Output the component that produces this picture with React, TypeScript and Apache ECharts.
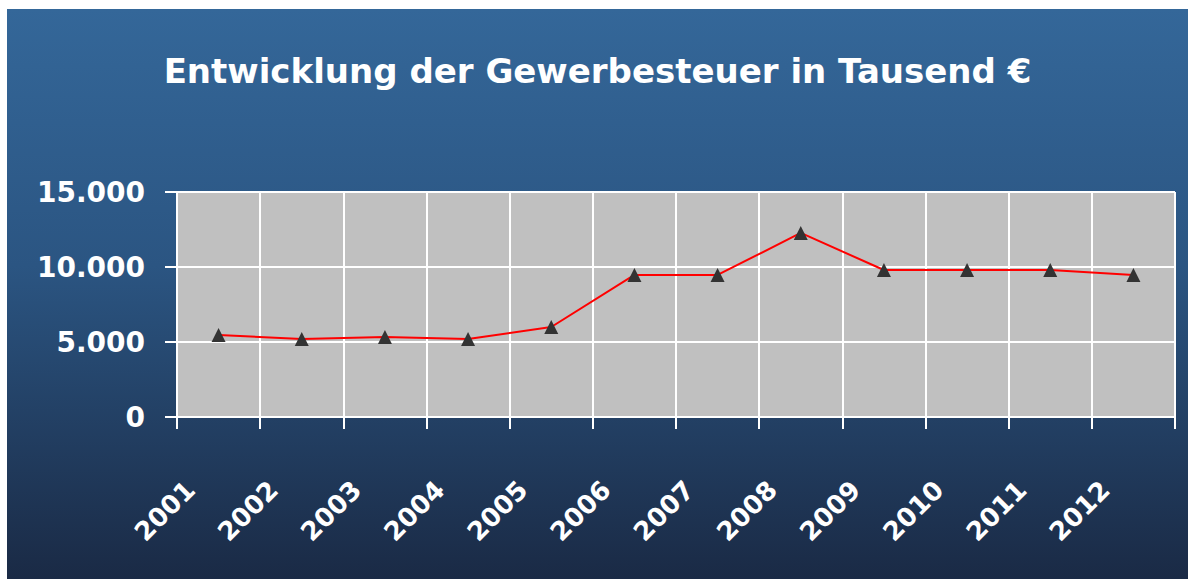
import React, { useEffect, useRef } from "react";
import * as echarts from "echarts";

const years = ["2001", "2002", "2003", "2004", "2005", "2006", "2007", "2008", "2009", "2010", "2011", "2012"];
const gewerbesteuer = [5470, 5200, 5330, 5200, 6000, 9470, 9470, 12270, 9800, 9800, 9800, 9470];
const titleText = "Entwicklung der Gewerbesteuer in Tausend €";

export default function App() {
  const ref = useRef<HTMLDivElement>(null);
  useEffect(() => {
    if (!ref.current) return;
    const chart = echarts.init(ref.current, null, { renderer: "svg" });
    const font = "'DejaVu Sans', sans-serif";
    chart.setOption({
      animation: false,
      backgroundColor: "transparent",
      graphic: [
        {
          type: "rect",
          z: -10,
          silent: true,
          shape: { x: 0, y: 0, width: 1181, height: 570 },
          style: {
            fill: new echarts.graphic.LinearGradient(0, 0, 0, 1, [
              { offset: 0, color: "#346799" },
              { offset: 0.45, color: "#2b5582" },
              { offset: 1, color: "#1a2a45" },
            ]),
          },
        },
      ],
      title: {
        text: titleText,
        left: "center",
        top: 40,
        textStyle: { color: "#ffffff", fontFamily: font, fontWeight: "bold", fontSize: 34 },
      },
      grid: {
        left: 170,
        top: 183,
        width: 998,
        height: 225,
        show: true,
        backgroundColor: "#c0c0c0",
        borderWidth: 0,
      },
      xAxis: {
        type: "category",
        data: years,
        boundaryGap: true,
        axisLine: { show: true, lineStyle: { color: "#ffffff", width: 2 } },
        axisTick: { show: true, length: 12, lineStyle: { color: "#ffffff", width: 2 } },
        splitLine: { show: true, lineStyle: { color: "#ffffff", width: 2 } },
        axisLabel: {
          interval: 0,
          rotate: 45,
          margin: 40,
          padding: [0, 40, 0, 0],
          color: "#ffffff",
          fontFamily: font,
          fontWeight: "bold",
          fontSize: 26,
        },
      },
      yAxis: {
        type: "value",
        min: 0,
        max: 15000,
        interval: 5000,
        axisLine: { show: true, lineStyle: { color: "#ffffff", width: 2 } },
        axisTick: { show: true, length: 12, lineStyle: { color: "#ffffff", width: 2 } },
        splitLine: { show: true, lineStyle: { color: "#ffffff", width: 2 } },
        axisLabel: {
          margin: 32,
          color: "#ffffff",
          fontFamily: font,
          fontWeight: "bold",
          fontSize: 28,
          formatter: (v: number) => (v === 0 ? "0" : v.toLocaleString("de-DE")),
        },
      },
      series: [
        {
          type: "line",
          data: gewerbesteuer,
          symbol: "triangle",
          symbolSize: 14,
          showAllSymbol: true,
          itemStyle: { color: "#333333", borderWidth: 0 },
          lineStyle: { color: "#ff0000", width: 2 },
        },
      ],
    });
    return () => chart.dispose();
  }, []);
  return (
    <div style={{ position: "absolute", left: 0, top: 0, width: 1188, height: 579, background: "#ffffff" }}>
      <div ref={ref} style={{ position: "absolute", left: 7, top: 9, width: 1181, height: 570 }} />
    </div>
  );
}
